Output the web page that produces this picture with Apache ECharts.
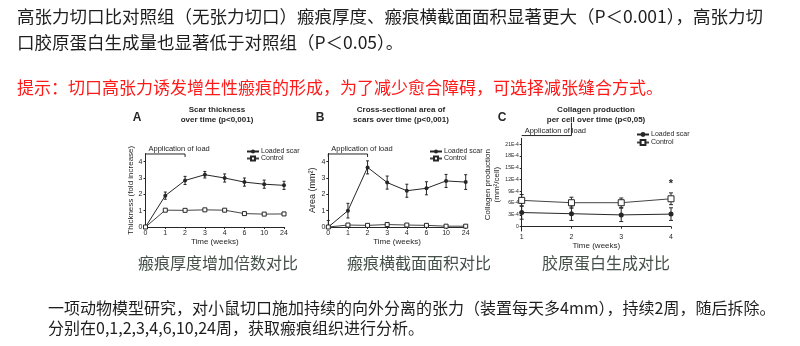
<!DOCTYPE html>
<html><head><meta charset="utf-8">
<script src="https://cdn.jsdelivr.net/npm/echarts@6/dist/echarts.min.js"></script>
<style>html,body{margin:0;padding:0;background:#fff;}#c{width:800px;height:346px;}</style>
</head><body><div id="c"></div>
<script>
// ---- data ----
const weeksAB = ['0','1','2','3','4','6','10','24'];
const weeksC = ['1','2','3','4'];
const thickLoaded = [0, 1.92, 2.85, 3.2, 3.0, 2.75, 2.62, 2.55];
const thickLoadedErr = [0, 0.22, 0.25, 0.2, 0.25, 0.25, 0.25, 0.25];
const thickControl = [0, 1.03, 1.02, 1.05, 1.03, 0.82, 0.79, 0.8];
const thickControlErr = [0, 0.05, 0.05, 0.05, 0.05, 0.05, 0.05, 0.05];
const areaLoaded = [0, 1.0, 3.65, 2.72, 2.22, 2.37, 2.82, 2.75];
const areaLoadedErr = [0.4, 0.45, 0.4, 0.4, 0.4, 0.4, 0.4, 0.45];
const areaControl = [0, 0.12, 0.1, 0.15, 0.12, 0.1, 0.05, 0.05];
const areaControlErr = [0, 0.04, 0.04, 0.04, 0.04, 0.04, 0.04, 0.04];
const collLoaded = [3.6, 3.3, 3.0, 3.2];      // x 1E-4
const collLoadedErr = [1.7, 1.7, 1.7, 1.6];
const collControl = [6.7, 6.1, 6.1, 7.1];
const collControlErr = [1.5, 1.4, 1.2, 1.5];
const sigMark = [[3, 10.9]];
const yTicksAB = [0, 1, 2, 3, 4];
const yTicksC = [0, 3, 6, 9, 12, 15, 18, 21];
const yTickLabelsC = ['0','3E-4','6E-4','9E-4','12E-4','15E-4','18E-4','21E-4'];
const bracketAB = [[0, 2, 4.47, 1]];
const bracketC = [[0, 1, 23.2, -1]];
const loadText = 'Application of load';

const INK = '#262626';
const FONT = 'Liberation Sans, Arial, sans-serif';
const CJK = '"Noto Sans CJK SC", sans-serif';

function errData(vals, errs){ return vals.map((v,i)=>[i, v, errs[i]]); }
function errRender(cap){
  return function(params, api){
    const x = api.value(0), y = api.value(1), e = api.value(2);
    const lo = Math.max(0, y - e);
    const t = api.coord([x, y + e]), b = api.coord([x, lo]);
    const st = {stroke: INK, lineWidth: 1};
    return {type:'group', children:[
      {type:'line', shape:{x1:t[0], y1:t[1], x2:b[0], y2:b[1]}, style:st},
      {type:'line', shape:{x1:t[0]-cap, y1:t[1], x2:t[0]+cap, y2:t[1]}, style:st},
      {type:'line', shape:{x1:b[0]-cap, y1:b[1], x2:b[0]+cap, y2:b[1]}, style:st}
    ]};
  };
}
function bracketRender(params, api){
  const s = api.value(0), e = api.value(1), y = api.value(2), d = api.value(3);
  const p0 = api.coord([s, y]), p1 = api.coord([e, y]);
  const st = {stroke: INK, lineWidth: 1};
  const ch = [
    {type:'line', shape:{x1:p0[0], y1:p0[1], x2:p1[0], y2:p1[1]}, style:st},
    {type:'line', shape:{x1:p1[0], y1:p1[1], x2:p1[0], y2:p1[1] + (d > 0 ? 3 : -13)}, style:st},
    {type:'text', x:p0[0] + 3, y:p0[1] - 1, style:{text: loadText, fill: INK, font: '7.5px ' + FONT, align:'left', verticalAlign:'bottom'}}
  ];
  if (d > 0) ch.push({type:'line', shape:{x1:p0[0], y1:p0[1], x2:p0[0], y2:p0[1]+3}, style:st});
  return {type:'group', children: ch};
}
function starRender(params, api){
  const p = api.coord([api.value(0), api.value(1)]);
  return {type:'text', x:p[0], y:p[1], style:{text:'*', fill: INK, font:'bold 11px ' + FONT, align:'center', verticalAlign:'middle'}};
}

const chart = echarts.init(document.getElementById('c'), null, {renderer:'canvas'});

const axisLineStyle = {lineStyle:{color: INK, width: 1}};
function xAx(gi, cats, offset, nameGap){
  return {type:'category', gridIndex: gi, data: cats, boundaryGap:false, offset: offset,
    axisLine: axisLineStyle, axisTick:{show:true, length:2, lineStyle:{color:INK}},
    axisLabel:{fontSize:7, color: INK, margin:3, fontFamily: FONT},
    name:'Time (weeks)', nameLocation:'middle', nameGap: nameGap,
    nameTextStyle:{fontSize:8, color: INK, fontFamily: FONT}};
}

const option = {
  animation:false,
  backgroundColor:'#fff',
  textStyle:{fontFamily: FONT},
  grid:[
    {left:145.5, top:153.5, width:138.5, height:73.5},
    {left:328.3, top:153.5, width:137.4, height:73.5},
    {left:521.7, top:138.3, width:149.3, height:92.7}
  ],
  xAxis:[ xAx(0, weeksAB, 0, 11), xAx(1, weeksAB, 0, 11), xAx(2, weeksC, 0, 7) ],
  yAxis:[
    {type:'value', gridIndex:0, min:0, max:4.5, splitLine:{show:false},
      axisLine:{show:true, ...axisLineStyle}, axisTick:{show:true, length:2, customValues: yTicksAB, lineStyle:{color:INK}},
      axisLabel:{fontSize:7, color:INK, margin:3, customValues: yTicksAB},
      name:'Thickness (fold increase)', nameLocation:'middle', nameGap:8, nameRotate:90,
      nameTextStyle:{fontSize:8, color:INK, fontFamily: FONT}},
    {type:'value', gridIndex:1, min:0, max:4.5, splitLine:{show:false},
      axisLine:{show:true, ...axisLineStyle}, axisTick:{show:true, length:2, customValues: yTicksAB, lineStyle:{color:INK}},
      axisLabel:{fontSize:7, color:INK, margin:3, customValues: yTicksAB},
      name:'Area (mm²)', nameLocation:'middle', nameGap:10, nameRotate:90,
      nameTextStyle:{fontSize:9, color:INK, fontFamily: FONT}},
    {type:'value', gridIndex:2, min:-1.1, max:22.5, splitLine:{show:false},
      axisLine:{show:true, ...axisLineStyle}, axisTick:{show:true, length:2, customValues: yTicksC, lineStyle:{color:INK}},
      axisLabel:{fontSize:5, color:INK, margin:3, customValues: yTicksC,
        formatter: v => yTickLabelsC[yTicksC.indexOf(v)] ?? ''},
      name:'Collagen production\n(mm²/cell)', nameLocation:'middle', nameGap:18, nameRotate:90,
      nameTextStyle:{fontSize:8, color:INK, fontFamily: FONT, lineHeight:9}}
  ],
  legend:[
    {data:['Loaded scar','Control'], left:246, top:148, orient:'vertical', itemGap:0, itemWidth:12, itemHeight:5,
      padding:0, textStyle:{fontSize:7, color:INK, padding:[0,0,0,-3], lineHeight:6}},
    {data:['Loaded scar','Control'], left:429, top:148, orient:'vertical', itemGap:0, itemWidth:12, itemHeight:5,
      padding:0, textStyle:{fontSize:7, color:INK, padding:[0,0,0,-3], lineHeight:6}},
    {data:['Loaded scar','Control'], left:636, top:131, orient:'vertical', itemGap:1, itemWidth:12, itemHeight:6,
      padding:0, textStyle:{fontSize:7, color:INK, padding:[0,0,0,-3], lineHeight:6}}
  ],
  series:[
    // A
    {name:'Loaded scar', type:'line', xAxisIndex:0, yAxisIndex:0, data: thickLoaded, symbol:'circle', symbolSize:4,
      lineStyle:{color:INK, width:1}, itemStyle:{color:INK}, z:4},
    {name:'Control', type:'line', xAxisIndex:0, yAxisIndex:0, data: thickControl, symbol:'rect', symbolSize:4,
      lineStyle:{color:'#444', width:1}, itemStyle:{color:'#fff', borderColor:INK, borderWidth:1}, z:4},
    {type:'custom', xAxisIndex:0, yAxisIndex:0, data: errData(thickLoaded, thickLoadedErr), renderItem: errRender(1.5), clip:false, z:2},
    {type:'custom', xAxisIndex:0, yAxisIndex:0, data: errData(thickControl, thickControlErr), renderItem: errRender(1.5), clip:false, z:2},
    {type:'custom', xAxisIndex:0, yAxisIndex:0, data: bracketAB, renderItem: bracketRender, clip:false, z:2},
    // B
    {name:'Loaded scar', type:'line', xAxisIndex:1, yAxisIndex:1, data: areaLoaded, symbol:'circle', symbolSize:4,
      lineStyle:{color:INK, width:1}, itemStyle:{color:INK}, z:4},
    {name:'Control', type:'line', xAxisIndex:1, yAxisIndex:1, data: areaControl, symbol:'rect', symbolSize:4,
      lineStyle:{color:'#444', width:1}, itemStyle:{color:'#fff', borderColor:INK, borderWidth:1}, z:4},
    {type:'custom', xAxisIndex:1, yAxisIndex:1, data: errData(areaLoaded, areaLoadedErr), renderItem: errRender(1.5), clip:false, z:2},
    {type:'custom', xAxisIndex:1, yAxisIndex:1, data: errData(areaControl, areaControlErr), renderItem: errRender(1.5), clip:false, z:2},
    {type:'custom', xAxisIndex:1, yAxisIndex:1, data: bracketAB, renderItem: bracketRender, clip:false, z:2},
    // C
    {name:'Loaded scar', type:'line', xAxisIndex:2, yAxisIndex:2, data: collLoaded, symbol:'circle', symbolSize:5,
      lineStyle:{color:INK, width:1}, itemStyle:{color:INK}, z:4},
    {name:'Control', type:'line', xAxisIndex:2, yAxisIndex:2, data: collControl, symbol:'rect', symbolSize:6,
      lineStyle:{color:'#444', width:1}, itemStyle:{color:'#fff', borderColor:INK, borderWidth:1}, z:4},
    {type:'custom', xAxisIndex:2, yAxisIndex:2, data: errData(collLoaded, collLoadedErr), renderItem: errRender(2), clip:false, z:2},
    {type:'custom', xAxisIndex:2, yAxisIndex:2, data: errData(collControl, collControlErr), renderItem: errRender(2), clip:false, z:2},
    {type:'custom', xAxisIndex:2, yAxisIndex:2, data: bracketC, renderItem: bracketRender, clip:false, z:2},
    {type:'custom', xAxisIndex:2, yAxisIndex:2, data: sigMark, renderItem: starRender, clip:false, z:5}
  ],
  graphic:[
    {type:'text', x:17, y:16, style:{text:'高张力切口比对照组（无张力切口）瘢痕厚度、瘢痕横截面面积显著更大（P＜0.001），高张力切', fill:'#1e1e1e', font:'17.5px ' + CJK, verticalAlign:'middle'}},
    {type:'text', x:17, y:42, style:{text:'口胶原蛋白生成量也显著低于对照组（P＜0.05）。', fill:'#1e1e1e', font:'17.5px ' + CJK, verticalAlign:'middle'}},
    {type:'text', x:17, y:88, style:{text:'提示：切口高张力诱发增生性瘢痕的形成，为了减少愈合障碍，可选择减张缝合方式。', fill:'#ff1a1a', font:'17px ' + CJK, verticalAlign:'middle'}},
    {type:'text', x:137, y:118, style:{text:'A', fill:INK, font:'bold 12px ' + FONT, align:'center', verticalAlign:'middle'}},
    {type:'text', x:320, y:118, style:{text:'B', fill:INK, font:'bold 12px ' + FONT, align:'center', verticalAlign:'middle'}},
    {type:'text', x:502, y:118, style:{text:'C', fill:INK, font:'bold 12px ' + FONT, align:'center', verticalAlign:'middle'}},
    {type:'text', x:217, y:115, style:{text:'Scar thickness\nover time (p<0,001)', fill:INK, font:'bold 8px ' + FONT, lineHeight:10, align:'center', verticalAlign:'middle'}},
    {type:'text', x:401, y:115, style:{text:'Cross-sectional area of\nscars over time (p<0,001)', fill:INK, font:'bold 8px ' + FONT, lineHeight:10, align:'center', verticalAlign:'middle'}},
    {type:'text', x:596, y:115, style:{text:'Collagen production\nper cell over time (p<0,05)', fill:INK, font:'bold 8px ' + FONT, lineHeight:10, align:'center', verticalAlign:'middle'}},
    {type:'text', x:218, y:263, style:{text:'瘢痕厚度增加倍数对比', fill:'#45504a', font:'16px ' + CJK, align:'center', verticalAlign:'middle'}},
    {type:'text', x:419, y:263, style:{text:'瘢痕横截面面积对比', fill:'#45504a', font:'16px ' + CJK, align:'center', verticalAlign:'middle'}},
    {type:'text', x:606, y:263, style:{text:'胶原蛋白生成对比', fill:'#45504a', font:'16px ' + CJK, align:'center', verticalAlign:'middle'}},
    {type:'text', x:48, y:308, style:{text:'一项动物模型研究，对小鼠切口施加持续的向外分离的张力（装置每天多4mm），持续2周，随后拆除。', fill:'#1e1e1e', font:'16px ' + CJK, verticalAlign:'middle'}},
    {type:'text', x:48, y:328, style:{text:'分别在0,1,2,3,4,6,10,24周，获取瘢痕组织进行分析。', fill:'#1e1e1e', font:'16px ' + CJK, verticalAlign:'middle'}}
  ]
};
chart.setOption(option);
</script></body></html>
